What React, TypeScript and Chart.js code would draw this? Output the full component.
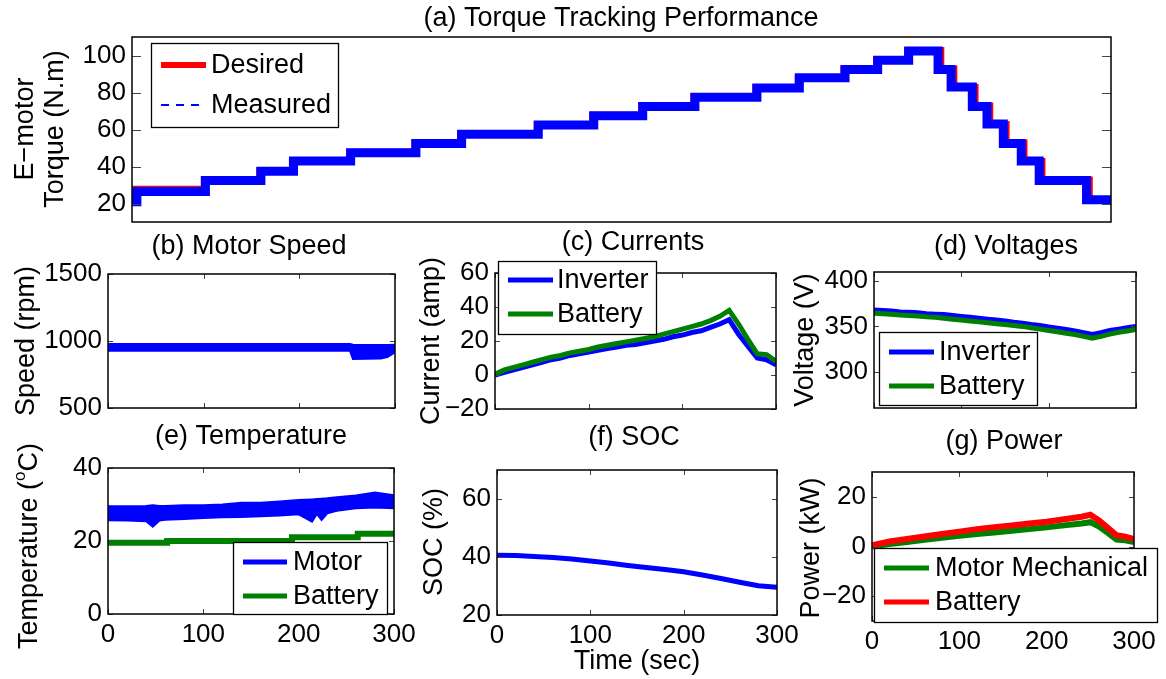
import React, { useEffect, useRef } from "react";
import { Chart, registerables } from "chart.js";

Chart.register(...registerables);

const W = 1166;
const H = 679;
const FONT = '"Liberation Sans", Arial, Helvetica, sans-serif';
const FS = 27;
const FS_TICK = 26;
const BLUE = "#0000ff";
const GREEN = "#008000";
const RED = "#ff0000";

// ---------- (a) Torque tracking ----------
const torqueDesiredTime = [0, 1, 22, 39, 49, 66.5, 86.5, 100.5, 124, 141, 156, 172, 191, 204, 218, 228, 237.5, 248, 252, 258.5, 263, 268, 273.5, 279, 293.5, 300];
const torqueDesired = [22, 28, 33, 38, 43, 48, 53, 58, 63, 68, 73, 78, 83, 88, 93, 98, 103, 93, 83, 73, 63, 53, 43, 33, 22, 22];
const torqueMeasuredTime = [0, 1.5, 22.5, 39.5, 49.5, 67, 87, 101, 124.5, 141.5, 156.5, 172.5, 191.5, 204.5, 218.5, 228.5, 238, 247, 251, 257.5, 262, 267, 272.5, 278, 292.5, 300];
const torqueMeasured = [21, 26.5, 32.5, 37.5, 43, 47.5, 52.5, 57.5, 62.5, 67.5, 72.5, 77.5, 82.5, 88, 92.5, 97.5, 102.5, 92.5, 83, 72.5, 63, 52.5, 43, 32.5, 22, 22];

// ---------- (b) Motor speed (band envelope) ----------
const speedTime = [0, 253, 256, 270, 285, 292, 300];
const speedUpper = [978, 978, 972, 970, 970, 970, 972];
const speedLower = [928, 928, 866, 868, 870, 880, 915];

// ---------- common 10 s grid ----------
const time10 = [0, 10, 20, 30, 40, 50, 60, 70, 80, 90, 100, 110, 120, 130, 140, 150, 160, 170, 180, 190, 200, 210, 220, 230, 240, 250, 260, 270, 280, 290, 300];

// (c) Currents
const inverterCurrent = [0, 1.5, 3, 4.5, 6, 7.5, 9, 10, 11.5, 12.5, 13.5, 14.5, 15.5, 16.5, 17.5, 18, 19, 20, 21, 22.5, 23.5, 25, 26, 28, 30, 32.5, 24, 17, 10, 9, 6];
const batteryCurrent = [0.5, 3, 4.5, 6, 7.5, 9, 10.5, 11.5, 13, 14, 15, 16.5, 17.5, 18.5, 19.5, 20.5, 21.5, 22.5, 24, 25.5, 27, 28.5, 30, 32, 34.5, 38, 30, 21, 12.5, 12, 8];

// (d) Voltages
const inverterVoltage = [368, 367.5, 367, 366, 365.5, 365, 364, 363.5, 363, 362, 361, 360, 359, 358, 357, 356, 354.5, 353.5, 352, 351, 349.5, 348, 346.5, 345, 343, 341, 343, 345.5, 347, 348.5, 350];
const batteryVoltage = [364.5, 364, 363.5, 362.5, 362, 361.5, 360.5, 360, 359, 358, 357, 356, 355, 354, 353, 352, 351, 350, 348.5, 347, 345.5, 344, 342.5, 341, 339, 337, 339, 341.5, 343.5, 345, 346.5];

// ---------- (e) Temperature ----------
const motorTempTime = [0, 20, 40, 47, 54, 60, 80, 100, 120, 140, 160, 180, 200, 214, 219, 224, 230, 240, 260, 280, 300];
const motorTempUpper = [29.5, 29.5, 29.6, 29.8, 29.6, 29.6, 29.8, 29.8, 30, 30.5, 30.5, 30.8, 31.2, 31.4, 31.5, 31.6, 31.7, 32, 32.5, 33.3, 32.5];
const motorTempLower = [25.7, 25.6, 25.4, 23.9, 25.6, 25.8, 26, 26.3, 26.5, 26.6, 26.8, 27, 27.3, 25.3, 27.4, 25.8, 27.6, 28.3, 29, 29.2, 29];
const batteryTempTime = [0, 62, 193, 262, 300];
const batteryTemp = [19.5, 20, 21, 22, 22];

// ---------- (f) SOC ----------
const time20 = [0, 20, 40, 60, 80, 100, 120, 140, 160, 180, 200, 220, 240, 260, 280, 300];
const soc = [40.6, 40.5, 40.2, 39.8, 39.3, 38.6, 37.9, 37.1, 36.4, 35.7, 34.9, 33.8, 32.6, 31.3, 30.1, 29.6];

// ---------- (g) Power ----------
const powerTime = [0, 20, 40, 60, 80, 100, 120, 140, 160, 180, 200, 220, 240, 250, 260, 270, 280, 290, 300];
const batteryPower = [0.5, 2, 3, 4, 5, 6, 7, 7.8, 8.5, 9.3, 10, 11, 12, 12.8, 10.5, 7.5, 4.5, 4, 3];
const motorPower = [0, 1, 1.8, 2.7, 3.5, 4.3, 5, 5.6, 6.3, 7, 7.7, 8.5, 9.3, 9.8, 8, 5.5, 2.8, 2.5, 1.8];

// ---------- tick values ----------
const timeTicks = [0, 100, 200, 300];
const torqueTicks = [20, 40, 60, 80, 100];
const speedTicks = [500, 1000, 1500];
const currentTicks = [-20, 0, 20, 40, 60];
const voltageTicks = [300, 350, 400];
const tempTicks = [0, 20, 40];
const socTicks = [20, 40, 60];
const powerTicks = [-20, 0, 20];

const pts = (xs: number[], ys: number[]) => xs.map((x, i) => ({ x, y: ys[i] }));
const fmt = (v: any) => String(v).replace("-", "\u2212");
const font = (s: number) => `${s}px ${FONT}`;

type Part = { text: string; sup?: boolean };
type LegendItem = { label: string; color: string; width: number; dash?: number[]; y: number };
type Panel = {
  box: [number, number, number, number];
  yMin: number;
  yMax: number;
  yTicks: number[];
  xTicks: number[];
  xMarks: number[];
  showX: boolean;
  tickLen: number;
  title: { text: string; x: number; y: number };
  yTitle: { x: number; y: number; parts: Part[] }[];
  xTitle?: { text: string; x: number; y: number };
  legend?: { box: [number, number, number, number]; x1: number; x2: number; tx: number; items: LegendItem[] };
  datasets: any[];
};

const panels: Panel[] = [
  {
    box: [132, 37, 1111, 222],
    yMin: 10, yMax: 110, yTicks: torqueTicks, xTicks: timeTicks, xMarks: [], showX: false, tickLen: 9,
    title: { text: "(a) Torque Tracking Performance", x: 621, y: 19 },
    yTitle: [
      { x: 26, y: 129, parts: [{ text: "E\u2212motor" }] },
      { x: 56, y: 129, parts: [{ text: "Torque (N.m)" }] },
    ],
    legend: {
      box: [151, 43, 338, 127], x1: 161, x2: 206, tx: 211,
      items: [
        { label: "Desired", color: RED, width: 6, y: 65 },
        { label: "Measured", color: BLUE, width: 2, dash: [8, 7], y: 105 },
      ],
    },
    datasets: [
      { data: pts(torqueMeasuredTime, torqueMeasured), borderColor: BLUE, borderWidth: 9, stepped: true, order: 0 },
      { data: pts(torqueDesiredTime, torqueDesired), borderColor: RED, borderWidth: 6, stepped: true, order: 1 },
    ],
  },
  {
    box: [108, 274, 395, 408],
    yMin: 500, yMax: 1500, yTicks: speedTicks, xTicks: timeTicks, xMarks: timeTicks, showX: false, tickLen: 5,
    title: { text: "(b) Motor Speed", x: 249, y: 247 },
    yTitle: [{ x: 27, y: 341, parts: [{ text: "Speed (rpm)" }] }],
    datasets: [
      { data: pts(speedTime, speedUpper), borderColor: BLUE, borderWidth: 2, fill: "+1", backgroundColor: BLUE },
      { data: pts(speedTime, speedLower), borderColor: BLUE, borderWidth: 2, fill: false },
    ],
  },
  {
    box: [495, 273, 776, 409],
    yMin: -20, yMax: 60, yTicks: currentTicks, xTicks: timeTicks, xMarks: timeTicks, showX: false, tickLen: 5,
    title: { text: "(c) Currents", x: 633, y: 243 },
    yTitle: [{ x: 432, y: 341, parts: [{ text: "Current (amp)" }] }],
    legend: {
      box: [498, 261, 656, 334], x1: 508, x2: 553, tx: 557,
      items: [
        { label: "Inverter", color: BLUE, width: 5, y: 280 },
        { label: "Battery", color: GREEN, width: 5, y: 314 },
      ],
    },
    datasets: [
      { data: pts(time10, inverterCurrent), borderColor: BLUE, borderWidth: 5, order: 1 },
      { data: pts(time10, batteryCurrent), borderColor: GREEN, borderWidth: 5, order: 0 },
    ],
  },
  {
    box: [874, 272, 1136, 408],
    yMin: 260, yMax: 410, yTicks: voltageTicks, xTicks: timeTicks, xMarks: timeTicks, showX: false, tickLen: 5,
    title: { text: "(d) Voltages", x: 1006, y: 247 },
    yTitle: [{ x: 806, y: 340, parts: [{ text: "Voltage (V)" }] }],
    legend: {
      box: [879, 332, 1037, 405], x1: 889, x2: 934, tx: 939,
      items: [
        { label: "Inverter", color: BLUE, width: 5, y: 352 },
        { label: "Battery", color: GREEN, width: 5, y: 386 },
      ],
    },
    datasets: [
      { data: pts(time10, inverterVoltage), borderColor: BLUE, borderWidth: 5, order: 1 },
      { data: pts(time10, batteryVoltage), borderColor: GREEN, borderWidth: 5, order: 0 },
    ],
  },
  {
    box: [108, 468, 394, 614],
    yMin: 0, yMax: 40, yTicks: tempTicks, xTicks: timeTicks, xMarks: timeTicks, showX: true, tickLen: 5,
    title: { text: "(e) Temperature", x: 251, y: 437 },
    yTitle: [{ x: 30, y: 546, parts: [{ text: "Temperature (" }, { text: "o", sup: true }, { text: "C)" }] }],
    legend: {
      box: [233, 542, 387, 614], x1: 243, x2: 287, tx: 293,
      items: [
        { label: "Motor", color: BLUE, width: 5, y: 562 },
        { label: "Battery", color: GREEN, width: 5, y: 596 },
      ],
    },
    datasets: [
      { data: pts(motorTempTime, motorTempUpper), borderColor: BLUE, borderWidth: 2, fill: "+1", backgroundColor: BLUE, order: 0 },
      { data: pts(motorTempTime, motorTempLower), borderColor: BLUE, borderWidth: 2, fill: false, order: 1 },
      { data: pts(batteryTempTime, batteryTemp), borderColor: GREEN, borderWidth: 6, stepped: true, order: 2 },
    ],
  },
  {
    box: [497, 470, 777, 615],
    yMin: 20, yMax: 70, yTicks: socTicks, xTicks: timeTicks, xMarks: timeTicks, showX: true, tickLen: 5,
    title: { text: "(f) SOC", x: 634, y: 438 },
    yTitle: [{ x: 435, y: 542, parts: [{ text: "SOC (%)" }] }],
    xTitle: { text: "Time (sec)", x: 637, y: 662 },
    datasets: [{ data: pts(time20, soc), borderColor: BLUE, borderWidth: 5 }],
  },
  {
    box: [872, 472, 1134, 621],
    yMin: -30, yMax: 30, yTicks: powerTicks, xTicks: timeTicks, xMarks: timeTicks, showX: true, tickLen: 5,
    title: { text: "(g) Power", x: 1004, y: 442 },
    yTitle: [{ x: 812, y: 548, parts: [{ text: "Power (kW)" }] }],
    legend: {
      box: [874, 548, 1157, 622], x1: 884, x2: 929, tx: 935,
      items: [
        { label: "Motor Mechanical", color: GREEN, width: 5, y: 568 },
        { label: "Battery", color: RED, width: 5, y: 602 },
      ],
    },
    datasets: [
      { data: pts(powerTime, motorPower), borderColor: GREEN, borderWidth: 6, order: 1 },
      { data: pts(powerTime, batteryPower), borderColor: RED, borderWidth: 6, order: 0 },
    ],
  },
];

function drawParts(ctx: CanvasRenderingContext2D, cx: number, cy: number, parts: Part[], rotate: boolean) {
  ctx.save();
  ctx.translate(cx, cy);
  if (rotate) ctx.rotate(-Math.PI / 2);
  ctx.fillStyle = "#000";
  ctx.textBaseline = "middle";
  ctx.textAlign = "left";
  let total = 0;
  for (const p of parts) {
    ctx.font = font(p.sup ? 17 : FS);
    total += ctx.measureText(p.text).width;
  }
  let x = -total / 2;
  for (const p of parts) {
    ctx.font = font(p.sup ? 17 : FS);
    ctx.fillText(p.text, x, p.sup ? -10 : 0);
    x += ctx.measureText(p.text).width;
  }
  ctx.restore();
}

function makeFrame(p: Panel) {
  return {
    id: "frame",
    afterDraw(chart: any) {
      const ctx: CanvasRenderingContext2D = chart.ctx;
      const [L, T, R, B] = p.box;
      const ys = chart.scales.y;
      const xs = chart.scales.x;
      ctx.save();
      // inward tick marks on all four sides
      ctx.strokeStyle = "#444";
      ctx.lineWidth = 1;
      ctx.beginPath();
      for (const v of p.yTicks) {
        const py = Math.round(ys.getPixelForValue(v)) + 0.5;
        ctx.moveTo(L, py); ctx.lineTo(L + p.tickLen, py);
        ctx.moveTo(R, py); ctx.lineTo(R - p.tickLen, py);
      }
      for (const v of p.xMarks) {
        const px = Math.round(xs.getPixelForValue(v)) + 0.5;
        ctx.moveTo(px, B); ctx.lineTo(px, B - p.tickLen);
        ctx.moveTo(px, T); ctx.lineTo(px, T + p.tickLen);
      }
      ctx.stroke();
      // axes box
      ctx.strokeStyle = "#000";
      ctx.lineWidth = 1.5;
      ctx.strokeRect(L, T, R - L, B - T);
      // legend
      if (p.legend) {
        const lg = p.legend;
        const [a, b, c, d] = lg.box;
        ctx.fillStyle = "#fff";
        ctx.fillRect(a, b, c - a, d - b);
        ctx.strokeStyle = "#000";
        ctx.lineWidth = 1.3;
        ctx.strokeRect(a + 0.5, b + 0.5, c - a, d - b);
        for (const it of lg.items) {
          ctx.beginPath();
          ctx.strokeStyle = it.color;
          ctx.lineWidth = it.width;
          ctx.setLineDash(it.dash || []);
          ctx.moveTo(lg.x1, it.y);
          ctx.lineTo(lg.x2, it.y);
          ctx.stroke();
          ctx.setLineDash([]);
          ctx.fillStyle = "#000";
          ctx.font = font(FS);
          ctx.textAlign = "left";
          ctx.textBaseline = "middle";
          ctx.fillText(it.label, lg.tx, it.y + 1);
        }
      }
      ctx.restore();
      // titles
      drawParts(ctx, p.title.x, p.title.y, [{ text: p.title.text }], false);
      for (const yt of p.yTitle) drawParts(ctx, yt.x, yt.y, yt.parts, true);
      if (p.xTitle) drawParts(ctx, p.xTitle.x, p.xTitle.y, [{ text: p.xTitle.text }], false);
    },
  };
}

function buildConfig(p: Panel): any {
  const [L, T, R, B] = p.box;
  const YW = 80;
  const XH = 40;
  const tickFont = { family: FONT, size: FS_TICK };
  return {
    type: "line",
    data: { datasets: p.datasets.map((d) => ({ pointRadius: 0, tension: 0, fill: false, ...d })) },
    options: {
      responsive: false,
      animation: false,
      events: [],
      layout: { padding: { left: L - YW, top: T, right: W - R, bottom: H - B - XH } },
      plugins: { legend: { display: false }, tooltip: { enabled: false }, title: { display: false } },
      scales: {
        x: {
          type: "linear",
          position: "bottom",
          min: 0,
          max: 300,
          afterFit: (s: any) => { s.height = XH; },
          afterBuildTicks: (s: any) => { s.ticks = p.xTicks.map((v) => ({ value: v })); },
          ticks: { display: p.showX, font: tickFont, color: "#000", padding: 5, maxRotation: 0, autoSkip: false, callback: fmt },
          grid: { display: false, drawTicks: false },
          border: { display: false },
        },
        y: {
          type: "linear",
          position: "left",
          min: p.yMin,
          max: p.yMax,
          afterFit: (s: any) => { s.width = YW; },
          afterBuildTicks: (s: any) => { s.ticks = p.yTicks.map((v) => ({ value: v })); },
          ticks: { font: tickFont, color: "#000", padding: 6, autoSkip: false, callback: fmt },
          grid: { display: false, drawTicks: false },
          border: { display: false },
        },
      },
    },
    plugins: [makeFrame(p)],
  };
}

function PanelCanvas({ panel }: { panel: Panel }) {
  const ref = useRef<HTMLCanvasElement>(null);
  useEffect(() => {
    const chart = new Chart(ref.current as HTMLCanvasElement, buildConfig(panel));
    return () => chart.destroy();
  }, [panel]);
  return (
    <canvas
      ref={ref}
      width={W}
      height={H}
      style={{ position: "absolute", left: 0, top: 0, width: W, height: H }}
    />
  );
}

export default function App() {
  return (
    <div style={{ position: "fixed", left: 0, top: 0, width: W, height: H, background: "#fff", overflow: "hidden" }}>
      {panels.map((p, i) => (
        <PanelCanvas key={i} panel={p} />
      ))}
    </div>
  );
}
